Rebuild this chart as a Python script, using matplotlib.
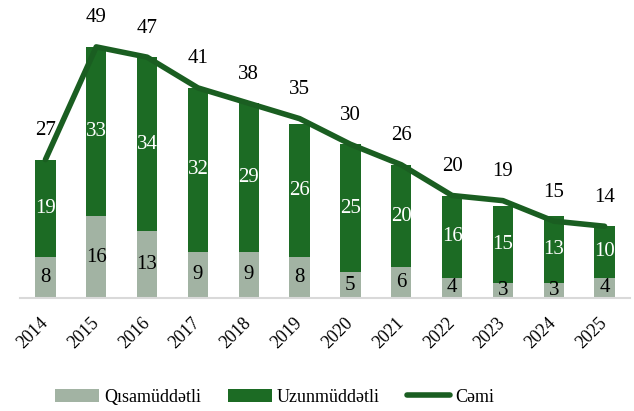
import matplotlib
matplotlib.use("Agg")
import matplotlib.pyplot as plt
import numpy as np

plt.rcParams['font.family'] = ['Liberation Serif', 'DejaVu Serif']

# Kredit portfeli: qısa və uzunmüddətli hissələr
illər = ['2014', '2015', '2016', '2017', '2018', '2019',
         '2020', '2021', '2022', '2023', '2024', '2025']
qisa = [8, 16, 13, 9, 9, 8, 5, 6, 4, 3, 3, 4]
uzun = [19, 33, 34, 32, 29, 26, 25, 20, 16, 15, 13, 10]
cemi = [27, 49, 47, 41, 38, 35, 30, 26, 20, 19, 15, 14]

rəng_qisa = '#a2b3a3'
rəng_uzun = '#1c6b24'
rəng_cemi = '#1a5e21'

fig = plt.figure(figsize=(6.34, 4.11), dpi=100)
ax = fig.add_axes([20 / 634, 1 - 298 / 411, 610 / 634, 288 / 411])

x = np.arange(len(illər))
en = 0.4
b1 = ax.bar(x, qisa, en, color=rəng_qisa, label='Qısamüddətli', zorder=2)
b2 = ax.bar(x, uzun, en, bottom=qisa, color=rəng_uzun, label='Uzunmüddətli', zorder=2)
xətt, = ax.plot(x, cemi, color=rəng_cemi, lw=4, solid_capstyle='round',
                solid_joinstyle='round', label='Cəmi', zorder=3)

# dəyər etiketləri
for i in range(len(x)):
    ax.text(x[i], qisa[i] / 2, str(qisa[i]), ha='center', va='center',
            fontsize=15, color='black', zorder=4)
    ax.text(x[i], qisa[i] + uzun[i] / 2, str(uzun[i]), ha='center', va='center',
            fontsize=15, color='white', zorder=4)
    ax.annotate(str(cemi[i]), (x[i], cemi[i]), xytext=(0, 14), textcoords='offset points',
                ha='center', va='bottom', fontsize=15, color='black')

ax.set_xlim(-0.5, len(x) - 0.5)
ax.set_ylim(0, 56.2)
ax.set_yticks([])
for s in ['top', 'right', 'left']:
    ax.spines[s].set_visible(False)
ax.spines['bottom'].set_color('#d9d9d9')
ax.spines['bottom'].set_linewidth(1.5)
ax.set_xticks(x)
ax.set_xticklabels(illər, rotation=45, ha='right', va='center', rotation_mode='anchor',
                   fontsize=13)
ax.tick_params(axis='x', length=0, pad=16)

fig.legend(handles=[b1, b2, xətt], labels=['Qısamüddətli', 'Uzunmüddətli', 'Cəmi'],
           loc='center', bbox_to_anchor=(275 / 634, 1 - 397 / 411), ncol=3, frameon=False,
           fontsize=13, handlelength=2.4, handleheight=0.7, columnspacing=1.5,
           handletextpad=0.3)

fig.savefig('out.png', dpi=100)
